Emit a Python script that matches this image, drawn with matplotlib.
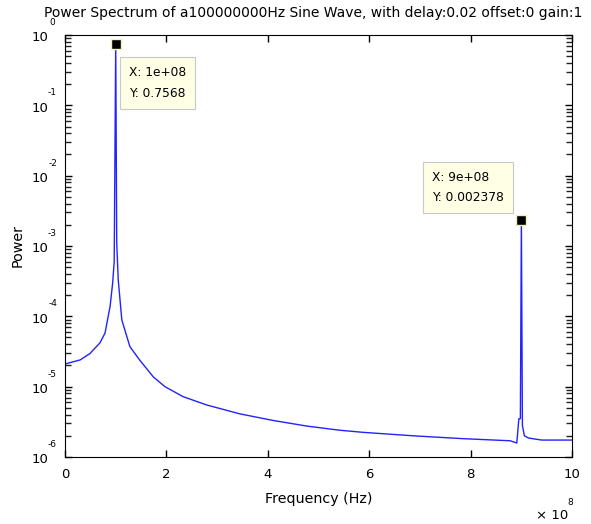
import numpy as np
import matplotlib.pyplot as plt
from matplotlib.ticker import FixedLocator, NullFormatter

plt.rcParams['font.family'] = ['DejaVu Sans']

# ---------------- data ----------------
freq_e8 = [0, 0.30, 0.49, 0.69, 0.79, 0.89, 0.94, 0.97, 1.00, 1.02, 1.05,
           1.12, 1.28, 1.48, 1.74, 1.97, 2.33, 2.79, 3.45, 4.11, 4.77,
           5.42, 5.88, 6.87, 7.86, 8.78, 8.91, 8.95, 8.98, 9.00, 9.02,
           9.06, 9.14, 9.40, 10.0]
power = [2.1e-5, 2.4e-5, 2.95e-5, 4.2e-5, 5.8e-5, 1.4e-4, 3.0e-4, 6.0e-4,
         0.7568, 1.1e-3, 3.3e-4, 8.9e-5, 3.7e-5, 2.35e-5, 1.38e-5, 1.0e-5,
         7.2e-6, 5.5e-6, 4.1e-6, 3.3e-6, 2.75e-6, 2.4e-6, 2.24e-6, 2.0e-6,
         1.82e-6, 1.7e-6, 1.58e-6, 3.5e-6, 3.5e-6, 0.002378, 2.8e-6, 2.0e-6,
         1.86e-6, 1.74e-6, 1.74e-6]

tip_x = [1e8, 9e8]
tip_y = [0.7568, 0.002378]
tip_text = ["X: 1e+08\nY: 0.7568", "X: 9e+08\nY: 0.002378"]

xtick_vals = [0, 2e8, 4e8, 6e8, 8e8, 10e8]
xtick_labels = ["0", "2", "4", "6", "8", "10"]
ydecades = [0, -1, -2, -3, -4, -5, -6]

freq = np.array(freq_e8) * 1e8

# ---------------- figure ----------------
fig = plt.figure(figsize=(5.91, 5.24), dpi=100)
ax = fig.add_axes([0.110, 0.1279, 0.858, 0.8053])

ax.semilogy(freq, power, color='#2222ff', lw=1.0)

# data tips
ax.plot(tip_x, tip_y, 's', ms=7, color='black', mec='#f0f0c0', mew=1.0,
        clip_on=False, zorder=5)
tip_box = dict(boxstyle='square,pad=0.75', fc='#ffffe6', ec='#c8c8c8', lw=0.8)
ax.annotate(tip_text[0], xy=(tip_x[0], tip_y[0]), xytext=(9.5, -16.5),
            textcoords='offset points', ha='left', va='top', fontsize=8.8,
            linespacing=1.75, multialignment='left', bbox=tip_box)
ax.annotate(tip_text[1], xy=(tip_x[1], tip_y[1]), xytext=(-12.5, 11),
            textcoords='offset points', ha='right', va='bottom', fontsize=8.8,
            linespacing=1.75, multialignment='left', bbox=tip_box)

ax.set_xlim(0, 1e9)
ax.set_ylim(1e-6, 1)

# ticks, MATLAB-like (inward, on all sides)
minor_y = [m * 10.0**k for k in ydecades[1:] for m in range(2, 10)]
ax.xaxis.set_major_locator(FixedLocator(xtick_vals))
ax.set_xticklabels(xtick_labels, fontsize=9.5)
ax.yaxis.set_major_locator(FixedLocator([10.0**k for k in ydecades]))
ax.yaxis.set_minor_locator(FixedLocator(minor_y))
ax.yaxis.set_major_formatter(NullFormatter())
ax.yaxis.set_minor_formatter(NullFormatter())
ax.tick_params(which='both', direction='in', top=True, right=True)
ax.tick_params(which='major', length=5, width=1.0, pad=8)
ax.tick_params(axis='y', which='minor', length=4, width=1.0, color='#222222')

# y tick labels drawn as "10" + raised exponent
for k in ydecades:
    ax.annotate("10", xy=(0, 10.0**k), xycoords=('axes fraction', 'data'),
                xytext=(-12, -2), textcoords='offset points',
                ha='right', va='center', fontsize=9.5)
    ax.annotate(str(k), xy=(0, 10.0**k), xycoords=('axes fraction', 'data'),
                xytext=(-9, 9), textcoords='offset points',
                ha='center', va='center', fontsize=6.5)

ax.set_xlabel("Frequency (Hz)", fontsize=10.3, labelpad=8)
ax.set_ylabel("Power", fontsize=10.3, labelpad=21)
ax.set_title("Power Spectrum of a100000000Hz Sine Wave, with delay:0.02 offset:0 gain:1",
             fontsize=10, pad=13, x=0.49)

# x multiplier
ax.annotate("\u00d7 10", xy=(1, 0), xycoords='axes fraction',
            xytext=(-3, -42), textcoords='offset points',
            ha='right', va='center', fontsize=9.5)
ax.annotate("8", xy=(1, 0), xycoords='axes fraction',
            xytext=(-1, -33), textcoords='offset points',
            ha='center', va='center', fontsize=6.5)

fig.savefig("out.png", dpi=100)
